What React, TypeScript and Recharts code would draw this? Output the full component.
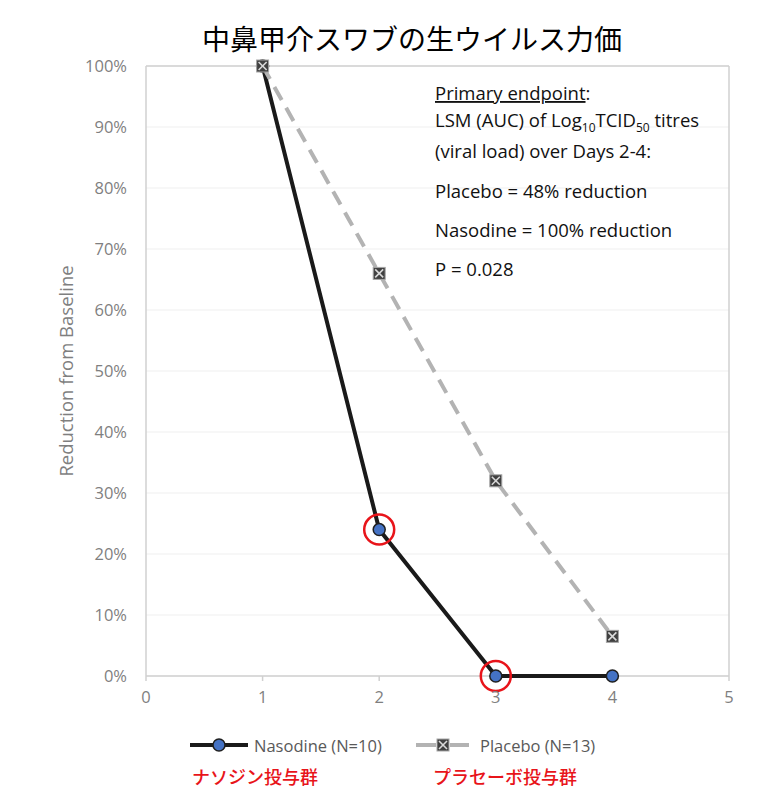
import React from "react";
import {
  LineChart,
  Line,
  XAxis,
  YAxis,
  CartesianGrid,
  ReferenceDot,
  ReferenceLine,
} from "recharts";

const days = [1, 2, 3, 4];
const nasodineValues = [100, 24, 0, 0];
const placeboValues = [100, 66, 32, 6.5];
const xTicks = [0, 1, 2, 3, 4, 5];
const yTicks = [0, 10, 20, 30, 40, 50, 60, 70, 80, 90, 100];
const highlighted = [
  { x: 2, y: 24 },
  { x: 3, y: 0 },
];
const seriesNames = ["Nasodine (N=10)", "Placebo (N=13)"];
const groupLabels = ["ナソジン投与群", "プラセーボ投与群"];
const title = "中鼻甲介スワブの生ウイルス力価";

const nasodineData = days.map((d, i) => ({ x: d, y: nasodineValues[i] }));
const placeboData = days.map((d, i) => ({ x: d, y: placeboValues[i] }));

const LATIN = "'Open Sans', 'DejaVu Sans', sans-serif";
const CJK = "'Noto Sans CJK JP', sans-serif";
const AXIS = "#d0d0d0";
const TICK = "#7f7f7f";

const CircleDot = (props: any) => {
  const { cx, cy, index } = props;
  if (cx == null || cy == null) return <g key={`c${index}`} />;
  return (
    <circle
      key={`c${index}`}
      cx={cx}
      cy={cy}
      r={6}
      fill="#4472c4"
      stroke="#1f1f1f"
      strokeWidth={1.5}
    />
  );
};

const SquareX = ({ cx, cy, k }: { cx: number; cy: number; k?: string }) => (
  <g key={k}>
    <rect x={cx - 6} y={cy - 6} width={12} height={12} fill="#404040" stroke="#a6a6a6" strokeWidth={1} />
    <line x1={cx - 4} y1={cy - 4} x2={cx + 4} y2={cy + 4} stroke="#d9d9d9" strokeWidth={1.6} />
    <line x1={cx + 4} y1={cy - 4} x2={cx - 4} y2={cy + 4} stroke="#d9d9d9" strokeWidth={1.6} />
  </g>
);

const SquareDot = (props: any) => {
  const { cx, cy, index } = props;
  if (cx == null || cy == null) return <g key={`s${index}`} />;
  return <SquareX cx={cx} cy={cy} k={`s${index}`} />;
};

export default function App() {
  return (
    <div
      style={{
        position: "relative",
        width: 783,
        height: 809,
        margin: "-8px 0 0 -8px",
        background: "#ffffff",
      }}
    >
      <LineChart
        width={783}
        height={809}
        margin={{ top: 66, right: 54, bottom: 103, left: 0 }}
      >
        <CartesianGrid vertical={false} stroke="#efefef" strokeWidth={1} />
        <XAxis
          type="number"
          dataKey="x"
          domain={[0, 5]}
          ticks={xTicks}
          height={30}
          axisLine={false}
          tickLine={{ stroke: AXIS, strokeWidth: 1.5 }}
          tickSize={5}
          tickMargin={10}
          tick={{ fill: TICK, fontSize: 16.5, fontFamily: LATIN }}
        />
        <YAxis
          type="number"
          dataKey="y"
          domain={[0, 100]}
          ticks={yTicks}
          width={146}
          axisLine={{ stroke: AXIS, strokeWidth: 1.5 }}
          tickLine={false}
          tickSize={0}
          tickMargin={19}
          tickFormatter={(v: number) => `${v}%`}
          tick={{ fill: TICK, fontSize: 16.5, fontFamily: LATIN }}
          label={{
            content: () => (
              <text
                x={65}
                y={371}
                transform="rotate(-90, 65, 371)"
                textAnchor="middle"
                dominantBaseline="central"
                fill={TICK}
                fontSize={18.5}
                fontFamily={LATIN}
              >
                Reduction from Baseline
              </text>
            ),
          }}
        />
        <ReferenceLine y={0} stroke={AXIS} strokeWidth={1.5} />
        <ReferenceLine y={100} stroke={AXIS} strokeWidth={1.5} />
        <ReferenceLine x={5} stroke={AXIS} strokeWidth={1.5} />
        <Line
          data={nasodineData}
          dataKey="y"
          name={seriesNames[0]}
          stroke="#1a1a1a"
          strokeWidth={4}
          dot={CircleDot}
          activeDot={false}
          isAnimationActive={false}
        />
        <Line
          data={placeboData}
          dataKey="y"
          name={seriesNames[1]}
          stroke="#b3b3b3"
          strokeWidth={4}
          strokeDasharray="15 9"
          dot={SquareDot}
          activeDot={false}
          isAnimationActive={false}
        />
        {highlighted.map((p, i) => (
          <ReferenceDot
            key={i}
            x={p.x}
            y={p.y}
            r={15}
            fill="none"
            stroke="#e8141a"
            strokeWidth={2.5}
            ifOverflow="visible"
          />
        ))}
      </LineChart>

      <svg
        width={783}
        height={809}
        style={{ position: "absolute", left: 0, top: 0, pointerEvents: "none" }}
      >
        <text
          x={412}
          y={38}
          textAnchor="middle"
          dominantBaseline="central"
          fontSize={28}
          fontFamily={CJK}
          fill="#000000"
        >
          {title}
        </text>

        <g fontFamily={LATIN} fontSize={18.5} fill="#111111">
          <text x={435} y={100}>
            <tspan textDecoration="underline">Primary endpoint</tspan>:
          </text>
          <text x={435} y={127}>
            LSM (AUC) of Log
            <tspan fontSize={12} dy={5}>10</tspan>
            <tspan dy={-5}>TCID</tspan>
            <tspan fontSize={12} dy={5}>50</tspan>
            <tspan dy={-5}> titres</tspan>
          </text>
          <text x={435} y={158}>(viral load) over Days 2-4:</text>
          <text x={435} y={198}>Placebo = 48% reduction</text>
          <text x={435} y={237}>Nasodine = 100% reduction</text>
          <text x={435} y={276}>P = 0.028</text>
        </g>

        <g>
          <line x1={190} y1={745} x2={248} y2={745} stroke="#1a1a1a" strokeWidth={4} />
          <circle cx={219} cy={745} r={6} fill="#4472c4" stroke="#1f1f1f" strokeWidth={1.5} />
          <text
            x={254}
            y={745}
            dominantBaseline="central"
            fontSize={16.5}
            fontFamily={LATIN}
            fill="#595959"
          >
            {seriesNames[0]}
          </text>
          <line x1={416} y1={745} x2={469} y2={745} stroke="#b3b3b3" strokeWidth={4} strokeDasharray="20 14" />
          <SquareX cx={443} cy={745} />
          <text
            x={480}
            y={745}
            dominantBaseline="central"
            fontSize={16.5}
            fontFamily={LATIN}
            fill="#595959"
          >
            {seriesNames[1]}
          </text>
        </g>

        <g fontFamily={CJK} fontSize={18} fill="#e8141a" fontWeight={500}>
          <text x={192} y={776} dominantBaseline="central">
            {groupLabels[0]}
          </text>
          <text x={433} y={776} dominantBaseline="central">
            {groupLabels[1]}
          </text>
        </g>
      </svg>
    </div>
  );
}
